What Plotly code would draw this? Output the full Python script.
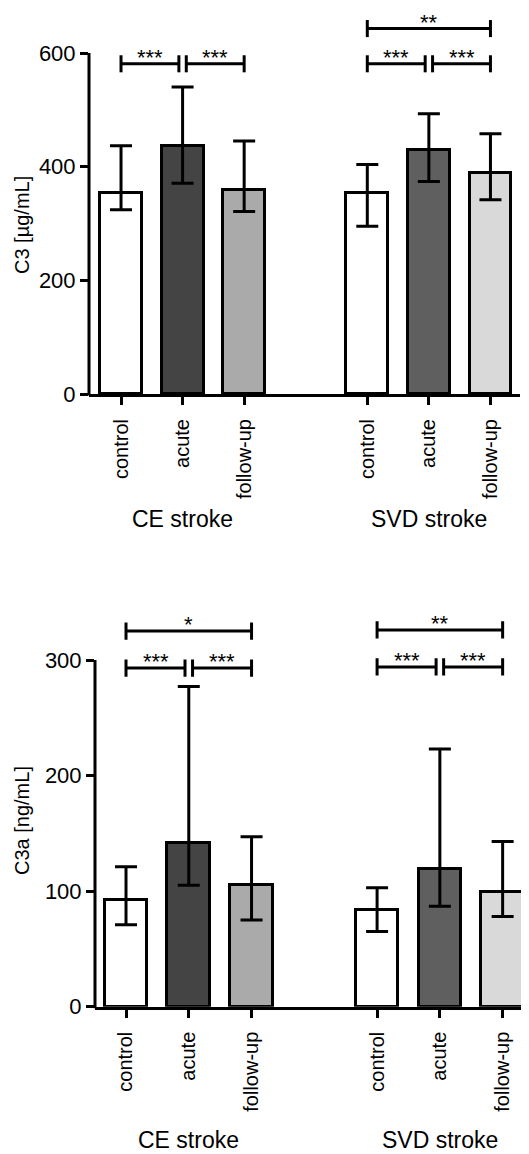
import plotly.graph_objects as go

# ---------------- data ----------------
groups = ["CE stroke", "SVD stroke"]
conditions = ["control", "acute", "follow-up"]
positions = [0, 1, 2, 4, 5, 6]
tick_text = conditions + conditions

c3_median = [354, 437, 359, 354, 430, 388]
c3_upper = [437, 540, 445, 404, 493, 458]
c3_lower = [324, 371, 321, 295, 374, 342]

c3a_median = [92, 142, 105, 84, 119, 99]
c3a_upper = [121, 277, 147, 103, 223, 143]
c3a_lower = [71, 105, 75, 65, 87, 78]

# significance brackets: (from position, to position, label, level)
c3_sig = [(0, 1, "***", 581), (1, 2, "***", 581),
          (4, 5, "***", 581), (5, 6, "***", 581), (4, 6, "**", 643)]
c3a_sig = [(0, 1, "***", 293), (1, 2, "***", 293), (0, 2, "*", 325),
           (4, 5, "***", 294), (5, 6, "***", 294), (4, 6, "**", 326)]

bar_colors = ["#ffffff", "#444444", "#aaaaaa", "#ffffff", "#5f5f5f", "#d9d9d9"]

# ---------------- layout geometry ----------------
OFF = 8                      # page body margin
W, H = 529 - OFF, 1154 - OFF
FONT = "Arial, Liberation Sans, Helvetica, sans-serif"


def fx(px):
    return (px - OFF) / W


def fy(py):
    return 1 - (py - OFF) / H


panels = [
    dict(med=c3_median, up=c3_upper, lo=c3_lower, sig=c3_sig,
         xdom=[fx(89), fx(520)], xr=[-0.52, 6.48],
         ydom=[fy(394), fy(8)], ymax_axis=600,
         yr=[0, 600 * (394 - 8) / 341.0], tickv=[0, 200, 400, 600],
         title="C3 [µg/mL]", title_y=225, group_y=519, tick_h=15),
    dict(med=c3a_median, up=c3a_upper, lo=c3a_lower, sig=c3a_sig,
         xdom=[fx(95), fx(529)], xr=[-0.494, 6.42],
         ydom=[fy(1006.7), fy(605)], ymax_axis=300,
         yr=[0, 300 * (1006.7 - 605) / 346.7], tickv=[0, 100, 200, 300],
         title="C3a [ng/mL]", title_y=821, group_y=1140, tick_h=7.5),
]

fig = go.Figure()
shapes = []
annotations = []

for i, p in enumerate(panels, start=1):
    xa = "x" if i == 1 else f"x{i}"
    ya = "y" if i == 1 else f"y{i}"
    plus = [u - m for u, m in zip(p["up"], p["med"])]
    minus = [m - l for m, l in zip(p["med"], p["lo"])]
    fig.add_trace(go.Bar(
        x=positions, y=p["med"], width=0.68,
        marker=dict(color=bar_colors, line=dict(color="black", width=3)),
        error_y=dict(type="data", symmetric=False, array=plus, arrayminus=minus,
                     color="black", thickness=3, width=11),
        xaxis=xa, yaxis=ya, showlegend=False, hoverinfo="skip"))

    # significance brackets
    for a, b, lab, lvl in p["sig"]:
        x0 = a + (0.06 if (b - a == 1 and a % 4 == 1) else 0)
        x1 = b - (0.06 if (b - a == 1 and b % 4 == 1) else 0)
        th = p["tick_h"]
        fig.add_trace(go.Scatter(
            x=[x0, x0, None, x0, x1, None, x1, x1],
            y=[lvl - th, lvl + th, None, lvl, lvl, None, lvl - th, lvl + th],
            mode="lines", line=dict(color="black", width=3),
            xaxis=xa, yaxis=ya, showlegend=False, hoverinfo="skip",
            cliponaxis=False))
        annotations.append(dict(
            x=(x0 + x1) / 2, y=lvl, xref=xa, yref=ya, text=lab,
            showarrow=False, yanchor="bottom", yshift=-8,
            font=dict(family=FONT, size=22, color="black")))

    axname = "xaxis" if i == 1 else f"xaxis{i}"
    ayname = "yaxis" if i == 1 else f"yaxis{i}"
    fig.update_layout({
        axname: dict(domain=p["xdom"], range=p["xr"], anchor=ya,
                     tickvals=positions, ticktext=tick_text, tickangle=-90,
                     ticks="outside", ticklen=8, tickwidth=3, tickcolor="black",
                     ticklabelstandoff=6,
                     showline=True, linecolor="black", linewidth=3,
                     showgrid=False, zeroline=False, automargin=False,
                     tickfont=dict(family=FONT, size=20, color="black")),
        ayname: dict(domain=p["ydom"], range=p["yr"], anchor=xa,
                     tickvals=p["tickv"], ticks="outside", ticklen=8,
                     tickwidth=3, tickcolor="black", showline=False,
                     showgrid=False, zeroline=False, automargin=False,
                     tickfont=dict(family=FONT, size=22, color="black")),
    })

    # y-axis line only up to the top tick
    yd0, yd1 = p["ydom"]
    ytop = yd0 + (p["ymax_axis"] / p["yr"][1]) * (yd1 - yd0)
    shapes.append(dict(type="line", xref="paper", yref="paper",
                       x0=p["xdom"][0], x1=p["xdom"][0], y0=yd0 - 1.5 / H, y1=ytop,
                       line=dict(color="black", width=3)))

    # y-axis title
    annotations.append(dict(
        x=fx(22), y=fy(p["title_y"]), xref="paper", yref="paper",
        text=p["title"], textangle=-90, showarrow=False,
        xanchor="center", yanchor="middle",
        font=dict(family=FONT, size=20, color="black")))

    # group labels
    for g, gx in zip(groups, [1, 5]):
        annotations.append(dict(
            x=gx, y=fy(p["group_y"]), xref=xa, yref="paper", text=g,
            showarrow=False, xanchor="center", yanchor="middle",
            font=dict(family=FONT, size=23, color="black")))

fig.update_layout(
    width=W, height=H, margin=dict(l=0, r=0, t=0, b=0),
    plot_bgcolor="white", paper_bgcolor="white",
    shapes=shapes, annotations=annotations, bargap=0,
    font=dict(family=FONT, color="black"))

fig.write_html("out.html")
